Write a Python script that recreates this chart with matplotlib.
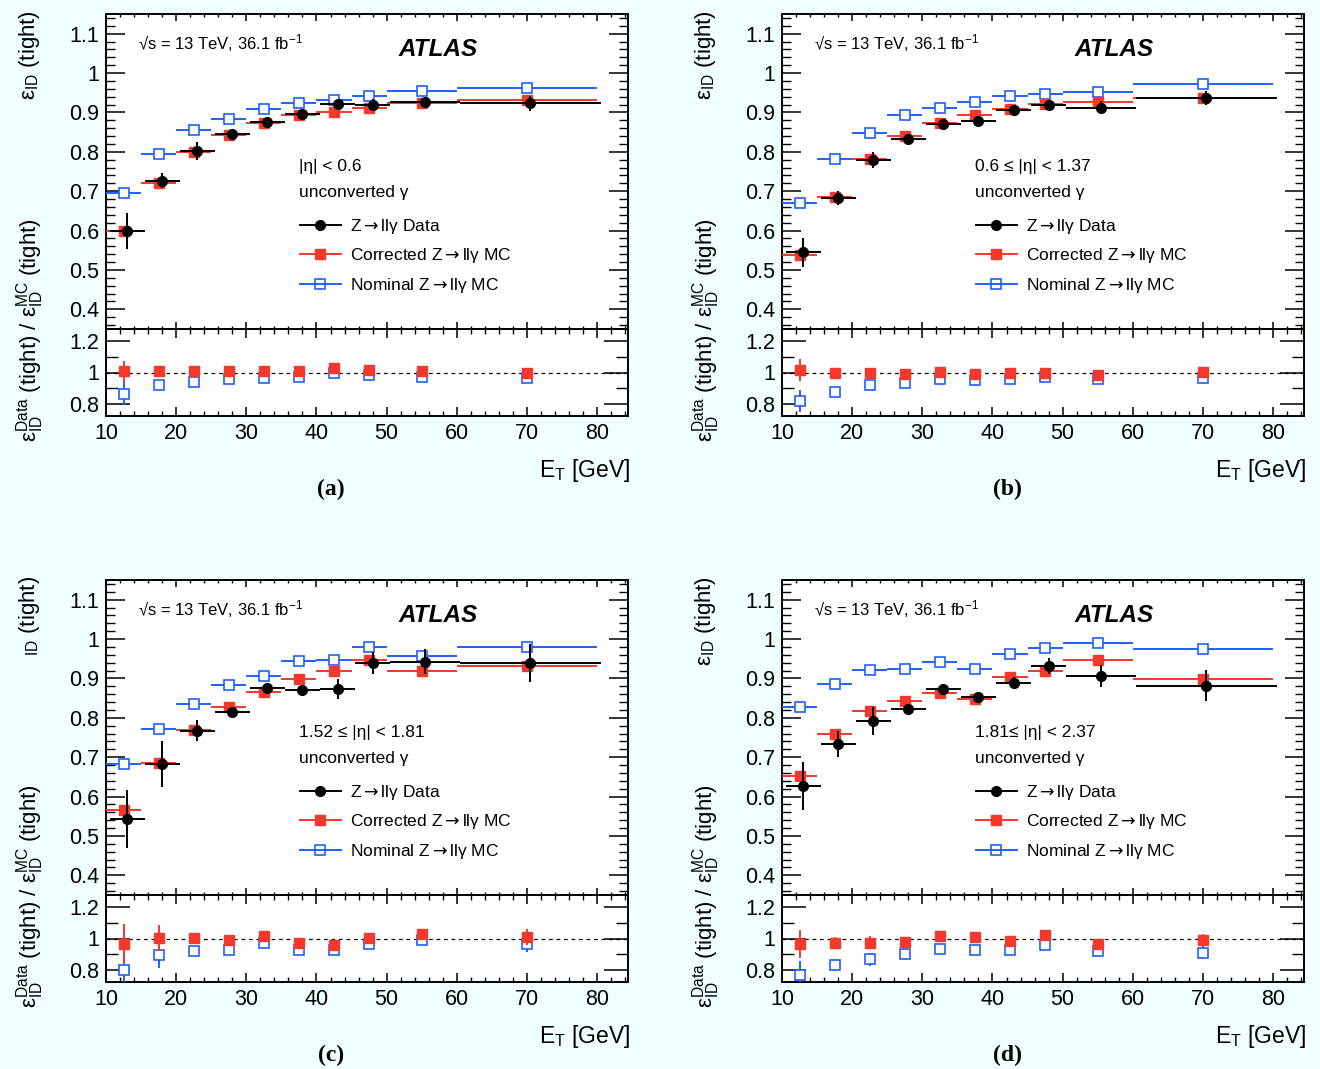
import numpy as np
import matplotlib
matplotlib.use('Agg')
import matplotlib.pyplot as plt
from matplotlib.lines import Line2D

plt.rcParams['font.family'] = ['Liberation Sans', 'DejaVu Sans']
plt.rcParams['mathtext.fontset'] = 'custom'
plt.rcParams['mathtext.rm'] = 'Liberation Sans'
plt.rcParams['mathtext.it'] = 'Liberation Sans:italic'
plt.rcParams['mathtext.bf'] = 'Liberation Sans:bold'
plt.rcParams['mathtext.sf'] = 'DejaVu Sans'

# ---------------- data ----------------
bin_edges = [10, 15, 20, 25, 30, 35, 40, 45, 50, 60, 80]

eta_labels = ["|\u03b7| < 0.6", "0.6 \u2264 |\u03b7| < 1.37",
              "1.52 \u2264 |\u03b7| < 1.81", "1.81\u2264 |\u03b7| < 2.37"]
panel_tags = ["(a)", "(b)", "(c)", "(d)"]
legend_labels = [r"Z$\mathsf{\rightarrow}$ll" + "\u03b3 Data",
                 r"Corrected Z$\mathsf{\rightarrow}$ll" + "\u03b3 MC",
                 r"Nominal Z$\mathsf{\rightarrow}$ll" + "\u03b3 MC"]

# panel (a)
data_a = [0.598, 0.727, 0.802, 0.846, 0.876, 0.896, 0.922, 0.919, 0.926, 0.923]
data_err_a = [0.046, 0.020, 0.022, 0.006, 0.005, 0.006, 0.010, 0.016, 0.014, 0.019]
corr_a = [0.598, 0.721, 0.800, 0.843, 0.874, 0.893, 0.901, 0.912, 0.923, 0.931]
corr_err_a = [0.008, 0.006, 0.005, 0.005, 0.005, 0.005, 0.005, 0.006, 0.006, 0.006]
nom_a = [0.696, 0.795, 0.856, 0.884, 0.908, 0.923, 0.931, 0.941, 0.954, 0.963]
nom_err_a = [0.003, 0.003, 0.003, 0.003, 0.003, 0.003, 0.003, 0.003, 0.003, 0.003]
rcorr_a = [1.007, 1.010, 1.007, 1.007, 1.007, 1.007, 1.026, 1.013, 1.009, 0.998]
rcorr_err_a = [0.070, 0.012, 0.012, 0.010, 0.010, 0.010, 0.015, 0.014, 0.012, 0.012]
rnom_a = [0.863, 0.917, 0.939, 0.961, 0.967, 0.974, 0.996, 0.983, 0.974, 0.963]
rnom_err_a = [0.075, 0.012, 0.012, 0.010, 0.010, 0.010, 0.012, 0.014, 0.012, 0.014]

# panel (b)
data_b = [0.545, 0.683, 0.780, 0.833, 0.871, 0.879, 0.905, 0.919, 0.912, 0.936]
data_err_b = [0.037, 0.017, 0.020, 0.006, 0.006, 0.008, 0.010, 0.013, 0.017, 0.018]
corr_b = [0.539, 0.685, 0.782, 0.841, 0.874, 0.893, 0.908, 0.922, 0.926, 0.937]
corr_err_b = [0.008, 0.006, 0.005, 0.005, 0.005, 0.005, 0.005, 0.006, 0.006, 0.006]
nom_b = [0.671, 0.783, 0.848, 0.893, 0.911, 0.926, 0.942, 0.947, 0.951, 0.971]
nom_err_b = [0.003, 0.003, 0.003, 0.003, 0.003, 0.003, 0.003, 0.003, 0.003, 0.003]
rcorr_b = [1.015, 0.998, 0.998, 0.993, 1.002, 0.989, 0.998, 0.998, 0.987, 1.004]
rcorr_err_b = [0.070, 0.010, 0.010, 0.010, 0.010, 0.010, 0.010, 0.012, 0.012, 0.012]
rnom_b = [0.815, 0.874, 0.920, 0.935, 0.957, 0.950, 0.961, 0.972, 0.961, 0.965]
rnom_err_b = [0.070, 0.010, 0.012, 0.010, 0.010, 0.010, 0.012, 0.012, 0.014, 0.016]

# panel (c)
data_c = [0.543, 0.683, 0.767, 0.816, 0.876, 0.871, 0.874, 0.939, 0.943, 0.940]
data_err_c = [0.073, 0.058, 0.027, 0.008, 0.012, 0.012, 0.025, 0.027, 0.032, 0.048]
corr_c = [0.565, 0.685, 0.768, 0.827, 0.865, 0.899, 0.919, 0.948, 0.920, 0.932]
corr_err_c = [0.008, 0.007, 0.006, 0.005, 0.005, 0.005, 0.006, 0.007, 0.014, 0.008]
nom_c = [0.683, 0.771, 0.836, 0.883, 0.906, 0.945, 0.948, 0.979, 0.956, 0.981]
nom_err_c = [0.003, 0.003, 0.003, 0.003, 0.003, 0.004, 0.008, 0.005, 0.010, 0.004]
rcorr_c = [0.963, 1.002, 1.002, 0.989, 1.015, 0.974, 0.959, 1.002, 1.028, 1.011]
rcorr_err_c = [0.130, 0.083, 0.035, 0.012, 0.012, 0.012, 0.020, 0.025, 0.030, 0.050]
rnom_c = [0.800, 0.891, 0.920, 0.926, 0.970, 0.924, 0.924, 0.963, 0.989, 0.963]
rnom_err_c = [0.100, 0.084, 0.033, 0.012, 0.012, 0.012, 0.020, 0.025, 0.030, 0.050]

# panel (d)
data_d = [0.627, 0.733, 0.792, 0.823, 0.872, 0.852, 0.888, 0.931, 0.905, 0.882]
data_err_d = [0.062, 0.033, 0.036, 0.008, 0.010, 0.012, 0.015, 0.020, 0.028, 0.040]
corr_d = [0.651, 0.758, 0.817, 0.843, 0.864, 0.849, 0.904, 0.918, 0.948, 0.898]
corr_err_d = [0.008, 0.007, 0.006, 0.005, 0.005, 0.006, 0.006, 0.007, 0.008, 0.012]
nom_d = [0.827, 0.887, 0.921, 0.924, 0.943, 0.923, 0.962, 0.977, 0.989, 0.976]
nom_err_d = [0.003, 0.003, 0.003, 0.003, 0.003, 0.005, 0.003, 0.003, 0.003, 0.003]
rcorr_d = [0.967, 0.970, 0.974, 0.980, 1.013, 1.011, 0.985, 1.022, 0.963, 0.989]
rcorr_err_d = [0.090, 0.040, 0.040, 0.012, 0.012, 0.012, 0.015, 0.020, 0.020, 0.040]
rnom_d = [0.763, 0.830, 0.865, 0.898, 0.930, 0.928, 0.926, 0.959, 0.920, 0.909]
rnom_err_d = [0.090, 0.040, 0.040, 0.012, 0.012, 0.012, 0.015, 0.020, 0.020, 0.040]

main_yticks = [0.4, 0.5, 0.6, 0.7, 0.8, 0.9, 1.0, 1.1]
main_yticklabels = ["0.4", "0.5", "0.6", "0.7", "0.8", "0.9", "1", "1.1"]
ratio_yticks = [0.8, 1.0, 1.2]
ratio_yticklabels = ["0.8", "1", "1.2"]
xticks = [10, 20, 30, 40, 50, 60, 70, 80]
xticklabels = ["10", "20", "30", "40", "50", "60", "70", "80"]

# ---------------- style ----------------
RED = '#f4382b'
BLUE = '#1f60ff'
BG = '#f0ffff'
W, H = 1320, 1069
XMIN, XMAX = 10, 84.4

fig = plt.figure(figsize=(W / 100, H / 100), dpi=100, facecolor=BG)


def fx(x):
    return x / W


def fy(y):
    return 1 - y / H


edges = np.array(bin_edges, dtype=float)
centers = 0.5 * (edges[:-1] + edges[1:])
halfw = 0.5 * (edges[1:] - edges[:-1])

LW = 1.4


def style_axes(ax, ymaj_len, ymin_len, xmaj_len, xmin_len):
    for s in ax.spines.values():
        s.set_linewidth(1.4)
    ax.set_xlim(XMIN, XMAX)
    ax.set_xticks(xticks)
    ax.set_xticks(np.arange(10, 85, 2), minor=True)
    ax.tick_params(axis='y', which='major', direction='in', left=True, right=True,
                   length=ymaj_len, width=1.1, labelsize=15.5, pad=5)
    ax.tick_params(axis='y', which='minor', direction='in', left=True, right=True,
                   length=ymin_len, width=1.0)
    ax.tick_params(axis='x', which='major', direction='in', bottom=True, top=True,
                   length=xmaj_len, width=1.1, labelsize=15.5, pad=5)
    ax.tick_params(axis='x', which='minor', direction='in', bottom=True, top=True,
                   length=xmin_len, width=1.0)


def panel(ox, oy, idx, data, data_err, corr, corr_err, nom, nom_err,
          rcorr, rcorr_err, rnom, rnom_err, ylabel_main):
    main = fig.add_axes([fx(106 + ox), fy(329 + oy), 522 / W, 315 / H])
    ratio = fig.add_axes([fx(106 + ox), fy(416 + oy), 522 / W, 87 / H])

    # main panel
    main.errorbar(centers, nom, xerr=halfw, yerr=nom_err, fmt='s', color=BLUE,
                  mfc='white', mec=BLUE, ms=7, mew=1.2, elinewidth=LW, capsize=0, zorder=3)
    main.errorbar(centers, corr, xerr=halfw, yerr=corr_err, fmt='s', color=RED,
                  mfc=RED, mec=RED, ms=6.5, elinewidth=LW, capsize=0, zorder=4)
    main.errorbar(centers + 0.5, data, xerr=halfw, yerr=data_err, fmt='o', color='black',
                  ms=7, elinewidth=LW, capsize=0, zorder=5)
    main.set_ylim(0.35, 1.15)
    main.set_yticks(main_yticks)
    main.set_yticklabels(main_yticklabels)
    main.set_yticks(np.arange(0.36, 1.15, 0.02), minor=True)
    style_axes(main, 13.7, 6.8, 5.0, 2.5)
    main.tick_params(axis='x', labelbottom=False)

    # ratio panel
    ratio.axhline(1.0, color='black', lw=0.9, ls=(0, (3, 3)), zorder=1)
    ratio.errorbar(centers, rnom, yerr=rnom_err, fmt='s', color=BLUE, mfc='white', mec=BLUE,
                   ms=7, mew=1.2, elinewidth=LW, capsize=0, zorder=3)
    ratio.errorbar(centers, rcorr, yerr=rcorr_err, fmt='s', color=RED, mfc=RED, mec=RED,
                   ms=6.5, elinewidth=LW, capsize=0, zorder=4)
    ratio.set_ylim(0.72, 1.28)
    ratio.set_yticks(ratio_yticks)
    ratio.set_yticklabels(ratio_yticklabels)
    ratio.set_yticks([0.9, 1.1], minor=True)
    style_axes(ratio, 17.3, 8.6, 6.8, 3.6)
    ratio.set_xticklabels(xticklabels)

    # texts
    fig.text(fx(138 + ox), fy(43 + oy), "\u221as = 13 TeV, 36.1 fb$^{-1}$",
             fontsize=12, ha='left', va='center')
    fig.text(fx(398 + ox), fy(49 + oy), "ATLAS", fontsize=17.5, fontweight='bold',
             fontstyle='italic', ha='left', va='center')
    fig.text(fx(299 + ox), fy(166 + oy), eta_labels[idx], fontsize=12.5, ha='left', va='center')
    fig.text(fx(299 + ox), fy(192 + oy), "unconverted \u03b3", fontsize=12.5, ha='left', va='center')

    handles = [Line2D([], [], color='black', marker='o', ms=7, lw=LW),
               Line2D([], [], color=RED, marker='s', ms=6.5, lw=LW),
               Line2D([], [], color=BLUE, marker='s', ms=7, mfc='none', mew=1.2, lw=LW)]
    main.legend(handles, legend_labels, loc='upper left', bbox_to_anchor=(fx(300 + ox), fy(217 + oy)),
                bbox_transform=fig.transFigure, frameon=False, fontsize=12.5,
                handlelength=2.36, handletextpad=0.5, labelspacing=0.6,
                borderpad=0, borderaxespad=0)

    fig.text(fx(30 + ox), fy(10 + oy), ylabel_main, rotation=90, ha='center', va='top', fontsize=16)
    fig.text(fx(30 + ox), fy(442 + oy),
             r"$\mathrm{\varepsilon}^{\mathrm{Data}}_{\mathrm{ID}}$ (tight) / "
             r"$\mathrm{\varepsilon}^{\mathrm{MC}}_{\mathrm{ID}}$ (tight)",
             rotation=90, ha='center', va='bottom', fontsize=16)
    fig.text(fx(630 + ox), fy(471 + oy), r"E$_{\mathrm{T}}$ [GeV]", ha='right', va='center',
             fontsize=16.5)
    fig.text(fx(331 + ox), fy(489 + oy), panel_tags[idx], fontfamily='Liberation Serif',
             fontweight='bold', fontsize=17, ha='center', va='center')


lab_eps = r"$\mathrm{\varepsilon}_{\mathrm{ID}}$ (tight)"
lab_noeps = r"${}_{\mathrm{ID}}$ (tight)"

panel(0, 0, 0, data_a, data_err_a, corr_a, corr_err_a, nom_a, nom_err_a,
      rcorr_a, rcorr_err_a, rnom_a, rnom_err_a, lab_eps)
panel(676, 0, 1, data_b, data_err_b, corr_b, corr_err_b, nom_b, nom_err_b,
      rcorr_b, rcorr_err_b, rnom_b, rnom_err_b, lab_eps)
panel(0, 566, 2, data_c, data_err_c, corr_c, corr_err_c, nom_c, nom_err_c,
      rcorr_c, rcorr_err_c, rnom_c, rnom_err_c, lab_noeps)
panel(676, 566, 3, data_d, data_err_d, corr_d, corr_err_d, nom_d, nom_err_d,
      rcorr_d, rcorr_err_d, rnom_d, rnom_err_d, lab_eps)

fig.savefig('out.png', dpi=100, facecolor=BG)
